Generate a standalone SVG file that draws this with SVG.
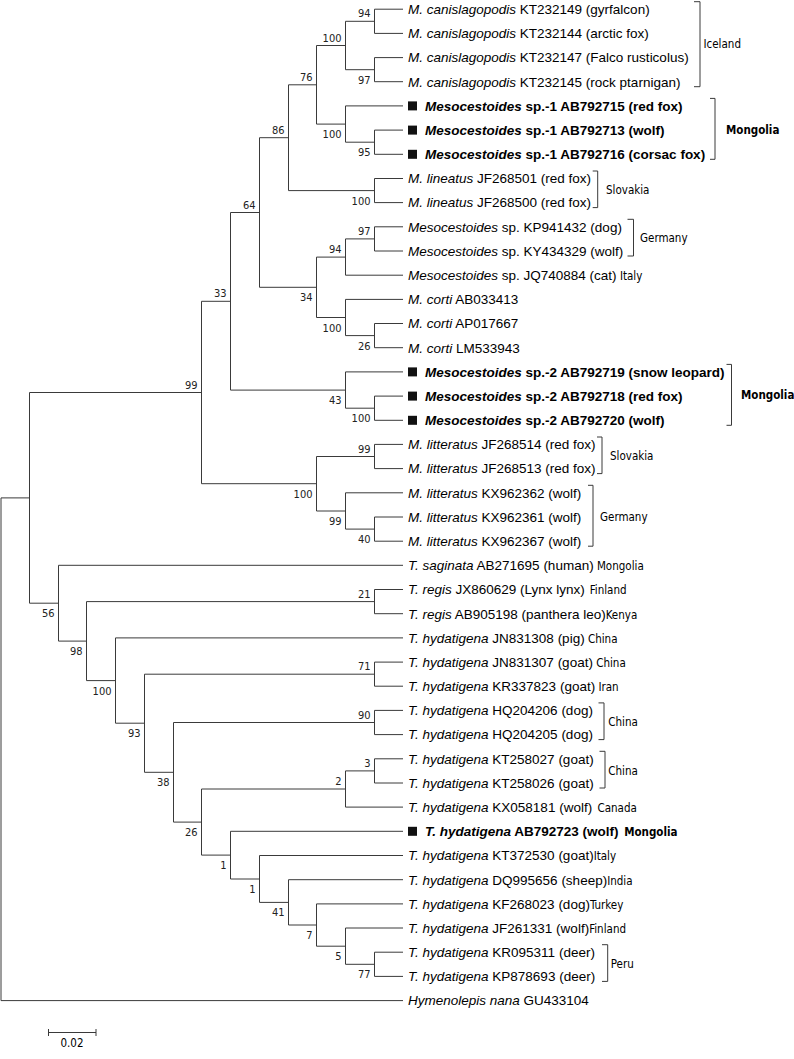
<svg xmlns="http://www.w3.org/2000/svg" width="794" height="1059" viewBox="0 0 794 1059">
<style>
.br{stroke:#3a3a3a;stroke-width:1;fill:none}
.lf{font-family:"Liberation Sans",Arial,sans-serif;font-size:13.5px;fill:#000}
.i{font-style:italic}
.b{font-weight:bold}
.bs{font-family:"DejaVu Sans Condensed","DejaVu Sans",sans-serif;font-size:11px;fill:#222;text-anchor:end}
.rg{font-family:"DejaVu Sans Condensed","DejaVu Sans",sans-serif;font-size:11.5px;font-style:normal}
.rgt{font-family:"DejaVu Sans Condensed","DejaVu Sans",sans-serif;font-size:11.5px;fill:#000}
.sq{fill:#111}
</style>
<rect width="794" height="1059" fill="#fff"/>
<g id="connectors" class="br">
<path d="M1 497.9V1000.6M1 497.9H29.5M1 1000.6H403"/>
<path d="M29.5 392.5V603.2M29.5 392.5H201.5M29.5 603.2H58.5"/>
<path d="M201.5 301.3V483.7M201.5 301.3H230.5M201.5 483.7H316.5"/>
<path d="M230.5 212.5V390.1M230.5 212.5H259.5M230.5 390.1H345.5"/>
<path d="M259.5 137.7V287.3M259.5 137.7H288.5M259.5 287.3H316.5"/>
<path d="M288.5 84.8V190.6M288.5 84.8H316.5M288.5 190.6H374.5"/>
<path d="M316.5 45.5V124.1M316.5 45.5H345.5M316.5 124.1H345.5"/>
<path d="M345.5 21.3V69.7M345.5 21.3H374.5M345.5 69.7H374.5"/>
<path d="M374.5 9.2V33.4H403M374.5 9.2H403"/>
<path d="M374.5 57.6V81.7H403M374.5 57.6H403"/>
<path d="M345.5 105.9V142.2H374.5M345.5 105.9H403"/>
<path d="M374.5 130.1V154.3H403M374.5 130.1H403"/>
<path d="M374.5 178.5V202.6H403M374.5 178.5H403"/>
<path d="M316.5 257.1V317.5H345.5M316.5 257.1H345.5"/>
<path d="M345.5 238.9V275.2H403M345.5 238.9H374.5"/>
<path d="M374.5 226.8V251H403M374.5 226.8H403"/>
<path d="M345.5 299.4V335.6H374.5M345.5 299.4H403"/>
<path d="M374.5 323.5V347.7H403M374.5 323.5H403"/>
<path d="M345.5 371.9V408.2H374.5M345.5 371.9H403"/>
<path d="M374.5 396.1V420.3H403M374.5 396.1H403"/>
<path d="M316.5 456.5V511H345.5M316.5 456.5H374.5"/>
<path d="M374.5 444.4V468.6H403M374.5 444.4H403"/>
<path d="M345.5 492.8V529.1H374.5M345.5 492.8H403"/>
<path d="M374.5 517V541.2H403M374.5 517H403"/>
<path d="M58.5 565.3V641.1H86.5M58.5 565.3H403"/>
<path d="M86.5 601.6V680.6H115.5M86.5 601.6H374.5"/>
<path d="M374.5 589.5V613.7H403M374.5 589.5H403"/>
<path d="M115.5 637.9V723.2H144.5M115.5 637.9H403"/>
<path d="M144.5 674.2V772.3H173.5M144.5 674.2H374.5"/>
<path d="M374.5 662.1V686.2H403M374.5 662.1H403"/>
<path d="M173.5 722.5V822.1H201.5M173.5 722.5H374.5"/>
<path d="M374.5 710.4V734.6H403M374.5 710.4H403"/>
<path d="M201.5 789V855.1H230.5M201.5 789H345.5"/>
<path d="M345.5 770.9V807.1H403M345.5 770.9H374.5"/>
<path d="M374.5 758.8V783H403M374.5 758.8H403"/>
<path d="M230.5 831.3V879H259.5M230.5 831.3H403"/>
<path d="M259.5 855.5V902.4H288.5M259.5 855.5H403"/>
<path d="M288.5 879.7V925H316.5M288.5 879.7H403"/>
<path d="M316.5 903.9V946.2H345.5M316.5 903.9H403"/>
<path d="M345.5 928V964.3H374.5M345.5 928H403"/>
<path d="M374.5 952.2V976.4H403M374.5 952.2H403"/>
</g>
<g id="bootstrap">
<text class="bs" x="370.5" y="17.3">94</text>
<text class="bs" x="341.5" y="41.5">100</text>
<text class="bs" x="312.5" y="80.8">76</text>
<text class="bs" x="284.5" y="133.7">86</text>
<text class="bs" x="255.5" y="208.5">64</text>
<text class="bs" x="226.5" y="297.3">33</text>
<text class="bs" x="197.5" y="388.5">99</text>
<text class="bs" x="370.5" y="234.9">97</text>
<text class="bs" x="341.5" y="253.1">94</text>
<text class="bs" x="370.5" y="452.5">99</text>
<text class="bs" x="370.5" y="597.6">21</text>
<text class="bs" x="370.5" y="670.2">71</text>
<text class="bs" x="370.5" y="718.5">90</text>
<text class="bs" x="341.5" y="785">2</text>
<text class="bs" x="370.5" y="766.9">3</text>
<text class="bs" x="370.5" y="83.7">97</text>
<text class="bs" x="341.5" y="138.1">100</text>
<text class="bs" x="370.5" y="156.2">95</text>
<text class="bs" x="370.5" y="204.6">100</text>
<text class="bs" x="312.5" y="301.3">34</text>
<text class="bs" x="341.5" y="331.5">100</text>
<text class="bs" x="370.5" y="349.6">26</text>
<text class="bs" x="341.5" y="404.1">43</text>
<text class="bs" x="370.5" y="422.2">100</text>
<text class="bs" x="312.5" y="497.7">100</text>
<text class="bs" x="341.5" y="525">99</text>
<text class="bs" x="370.5" y="543.1">40</text>
<text class="bs" x="54.5" y="617.2">56</text>
<text class="bs" x="82.5" y="655.1">98</text>
<text class="bs" x="111.5" y="694.6">100</text>
<text class="bs" x="140.5" y="737.2">93</text>
<text class="bs" x="169.5" y="786.3">38</text>
<text class="bs" x="197.5" y="836.1">26</text>
<text class="bs" x="226.5" y="869.1">1</text>
<text class="bs" x="255.5" y="893">1</text>
<text class="bs" x="284.5" y="916.4">41</text>
<text class="bs" x="312.5" y="939">7</text>
<text class="bs" x="341.5" y="960.2">5</text>
<text class="bs" x="370.5" y="978.3">77</text>
</g>
<g id="leaves">
<g id="leaf1"><text class="lf" x="408" y="14"><tspan class="i">M. canislagopodis</tspan> KT232149 (gyrfalcon)</text></g>
<g id="leaf2"><text class="lf" x="408" y="38.2"><tspan class="i">M. canislagopodis</tspan> KT232144 (arctic fox)</text></g>
<g id="leaf3"><text class="lf" x="408" y="62.4"><tspan class="i">M. canislagopodis</tspan> KT232147 (Falco rusticolus)</text></g>
<g id="leaf4"><text class="lf" x="408" y="86.5"><tspan class="i">M. canislagopodis</tspan> KT232145 (rock ptarnigan)</text></g>
<g id="leaf5"><rect class="sq" x="408" y="101.4" width="9" height="9"/><text class="lf b" x="425" y="110.7"><tspan class="i">Mesocestoides</tspan> sp.-1 AB792715 (red fox)</text></g>
<g id="leaf6"><rect class="sq" x="408" y="125.6" width="9" height="9"/><text class="lf b" x="425" y="134.9"><tspan class="i">Mesocestoides</tspan> sp.-1 AB792713 (wolf)</text></g>
<g id="leaf7"><rect class="sq" x="408" y="149.8" width="9" height="9"/><text class="lf b" x="425" y="159.1"><tspan class="i">Mesocestoides</tspan> sp.-1 AB792716 (corsac fox)</text></g>
<g id="leaf8"><text class="lf" x="408" y="183.3"><tspan class="i">M. lineatus</tspan> JF268501 (red fox)</text></g>
<g id="leaf9"><text class="lf" x="408" y="207.4"><tspan class="i">M. lineatus</tspan> JF268500 (red fox)</text></g>
<g id="leaf10"><text class="lf" x="408" y="231.6"><tspan class="i">Mesocestoides</tspan> sp. KP941432 (dog)</text></g>
<g id="leaf11"><text class="lf" x="408" y="255.8"><tspan class="i">Mesocestoides</tspan> sp. KY434329 (wolf)</text></g>
<g id="leaf12"><text class="lf" x="408" y="280"><tspan class="i">Mesocestoides</tspan> sp. JQ740884 (cat)<tspan class="rg"> Italy</tspan></text></g>
<g id="leaf13"><text class="lf" x="408" y="304.2"><tspan class="i">M. corti</tspan> AB033413</text></g>
<g id="leaf14"><text class="lf" x="408" y="328.3"><tspan class="i">M. corti</tspan> AP017667</text></g>
<g id="leaf15"><text class="lf" x="408" y="352.5"><tspan class="i">M. corti</tspan> LM533943</text></g>
<g id="leaf16"><rect class="sq" x="408" y="367.4" width="9" height="9"/><text class="lf b" x="425" y="376.7"><tspan class="i">Mesocestoides</tspan> sp.-2 AB792719 (snow leopard)</text></g>
<g id="leaf17"><rect class="sq" x="408" y="391.6" width="9" height="9"/><text class="lf b" x="425" y="400.9"><tspan class="i">Mesocestoides</tspan> sp.-2 AB792718 (red fox)</text></g>
<g id="leaf18"><rect class="sq" x="408" y="415.8" width="9" height="9"/><text class="lf b" x="425" y="425.1"><tspan class="i">Mesocestoides</tspan> sp.-2 AB792720 (wolf)</text></g>
<g id="leaf19"><text class="lf" x="408" y="449.2"><tspan class="i">M. litteratus</tspan> JF268514 (red fox)</text></g>
<g id="leaf20"><text class="lf" x="408" y="473.4"><tspan class="i">M. litteratus</tspan> JF268513 (red fox)</text></g>
<g id="leaf21"><text class="lf" x="408" y="497.6"><tspan class="i">M. litteratus</tspan> KX962362 (wolf)</text></g>
<g id="leaf22"><text class="lf" x="408" y="521.8"><tspan class="i">M. litteratus</tspan> KX962361 (wolf)</text></g>
<g id="leaf23"><text class="lf" x="408" y="546"><tspan class="i">M. litteratus</tspan> KX962367 (wolf)</text></g>
<g id="leaf24"><text class="lf" x="408" y="570.1"><tspan class="i">T. saginata</tspan> AB271695 (human)<tspan class="rg"> Mongolia</tspan></text></g>
<g id="leaf25"><text class="lf" x="408" y="594.3"><tspan class="i">T. regis</tspan> JX860629 (Lynx lynx)<tspan class="rg" dx="1.5"> Finland</tspan></text></g>
<g id="leaf26"><text class="lf" x="408" y="618.5"><tspan class="i">T. regis</tspan> AB905198 (panthera leo)<tspan class="rg">Kenya</tspan></text></g>
<g id="leaf27"><text class="lf" x="408" y="642.7"><tspan class="i">T. hydatigena</tspan> JN831308 (pig)<tspan class="rg"> China</tspan></text></g>
<g id="leaf28"><text class="lf" x="408" y="666.9"><tspan class="i">T. hydatigena</tspan> JN831307 (goat)<tspan class="rg"> China</tspan></text></g>
<g id="leaf29"><text class="lf" x="408" y="691"><tspan class="i">T. hydatigena</tspan> KR337823 (goat)<tspan class="rg"> Iran</tspan></text></g>
<g id="leaf30"><text class="lf" x="408" y="715.2"><tspan class="i">T. hydatigena</tspan> HQ204206 (dog)</text></g>
<g id="leaf31"><text class="lf" x="408" y="739.4"><tspan class="i">T. hydatigena</tspan> HQ204205 (dog)</text></g>
<g id="leaf32"><text class="lf" x="408" y="763.6"><tspan class="i">T. hydatigena</tspan> KT258027 (goat)</text></g>
<g id="leaf33"><text class="lf" x="408" y="787.8"><tspan class="i">T. hydatigena</tspan> KT258026 (goat)</text></g>
<g id="leaf34"><text class="lf" x="408" y="811.9"><tspan class="i">T. hydatigena</tspan> KX058181 (wolf)<tspan class="rg" dx="2"> Canada</tspan></text></g>
<g id="leaf35"><rect class="sq" x="408" y="826.8" width="9" height="9"/><text class="lf b" x="425" y="836.1"><tspan class="i">T. hydatigena</tspan> AB792723 (wolf)<tspan class="rg" dx="2"> Mongolia</tspan></text></g>
<g id="leaf36"><text class="lf" x="408" y="860.3"><tspan class="i">T. hydatigena</tspan> KT372530 (goat)<tspan class="rg">Italy</tspan></text></g>
<g id="leaf37"><text class="lf" x="408" y="884.5"><tspan class="i">T. hydatigena</tspan> DQ995656 (sheep)<tspan class="rg">India</tspan></text></g>
<g id="leaf38"><text class="lf" x="408" y="908.7"><tspan class="i">T. hydatigena</tspan> KF268023 (dog)<tspan class="rg">Turkey</tspan></text></g>
<g id="leaf39"><text class="lf" x="408" y="932.8"><tspan class="i">T. hydatigena</tspan> JF261331 (wolf)<tspan class="rg">Finland</tspan></text></g>
<g id="leaf40"><text class="lf" x="408" y="957"><tspan class="i">T. hydatigena</tspan> KR095311 (deer)</text></g>
<g id="leaf41"><text class="lf" x="408" y="981.2"><tspan class="i">T. hydatigena</tspan> KP878693 (deer)</text></g>
<g id="leaf42"><text class="lf" x="408" y="1005.4"><tspan class="i">Hymenolepis nana</tspan> GU433104</text></g>
</g>
<g id="regions">
<g id="reg-iceland"><path class="br" d="M694 1.7H700V86.7H694"/><text class="rgt" x="703.5" y="47.5">Iceland</text></g>
<g id="reg-mongolia1"><path class="br" d="M710 98.4H715V159.3H710"/><text class="rgt b" x="726" y="133.5">Mongolia</text></g>
<g id="reg-slovakia1"><path class="br" d="M592.7 171H597.7V207.6H592.7"/><text class="rgt" x="606" y="194">Slovakia</text></g>
<g id="reg-germany1"><path class="br" d="M627.5 219.3H633.5V256H627.5"/><text class="rgt" x="640" y="242">Germany</text></g>
<g id="reg-mongolia2"><path class="br" d="M726.5 364.4H731.5V425.3H726.5"/><text class="rgt b" x="741" y="399">Mongolia</text></g>
<g id="reg-slovakia2"><path class="br" d="M597 437H602V473.6H597"/><text class="rgt" x="610" y="460">Slovakia</text></g>
<g id="reg-germany2"><path class="br" d="M588 485.3H593V546.2H588"/><text class="rgt" x="600" y="520.5">Germany</text></g>
<g id="reg-china1"><path class="br" d="M598.5 702.9H604V739.6H598.5"/><text class="rgt" x="608.3" y="726">China</text></g>
<g id="reg-china2"><path class="br" d="M599.5 751.3H605V788H599.5"/><text class="rgt" x="608.3" y="775">China</text></g>
<g id="reg-peru"><path class="br" d="M602 944.7H607.7V981.4H602"/><text class="rgt" x="610.7" y="968">Peru</text></g>
</g>
<g id="scalebar">
<path class="br" d="M48.5 1032.5H96M48.5 1029V1036M96 1029V1036"/>
<text class="rgt" x="72" y="1047" font-size="10" text-anchor="middle">0.02</text>
</g>
</svg>
